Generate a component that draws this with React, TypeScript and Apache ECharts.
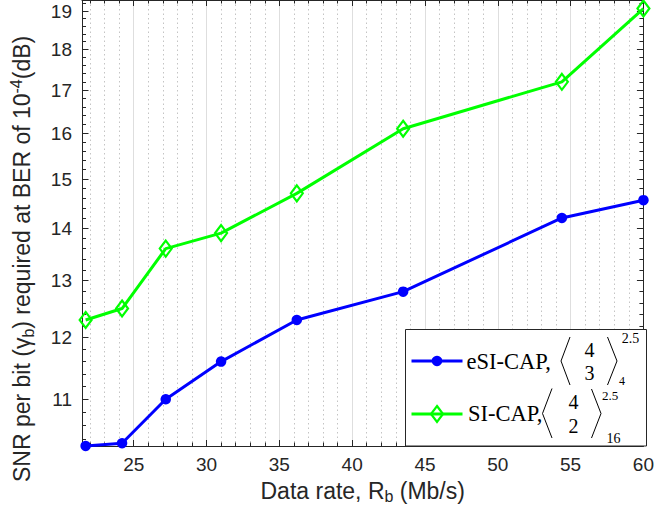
import React, { useEffect, useRef } from 'react';
import * as echarts from 'echarts';

// ---- data ----
const dataRate = [21.7, 24.2, 27.2, 31.0, 36.2, 43.5, 54.4, 60.0];
const esiCap = [10.3, 10.34, 11.0, 11.6, 12.3, 12.8, 14.2, 14.56];
const siCap = [12.3, 12.5, 13.6, 13.9, 14.7, 16.1, 17.2, 19.07];

const xTicks = [25, 30, 35, 40, 45, 50, 55, 60];
const xMinorTicks = [22, 23, 24, 26, 27, 28, 29, 31, 32, 33, 34, 36, 37, 38, 39, 41, 42, 43, 44, 46, 47, 48, 49, 51, 52, 53, 54, 56, 57, 58, 59];
const yTicks = [11, 12, 13, 14, 15, 16, 17, 18, 19];
const yMinorTicks = [10.4, 10.6, 10.8, 11.2, 11.4, 11.6, 11.8, 12.2, 12.4, 12.6, 12.8, 13.2, 13.4, 13.6, 13.8, 14.2, 14.4, 14.6, 14.8, 15.2, 15.4, 15.6, 15.8, 16.2, 16.4, 16.6, 16.8, 17.2, 17.4, 17.6, 17.8, 18.2, 18.4, 18.6, 18.8, 19.2];

const X_MIN = 21.45;
const X_MAX = 60;
const Y_MIN = 10.3;
const Y_MAX = 19.3;

const AX = '#262626';
const SANS = '"Liberation Sans", Arial, Helvetica, sans-serif';
const SERIF = '"Liberation Serif", "Times New Roman", serif';

const lg = (v: number) => Math.log10(v);

export default function App() {
  const ref = useRef<HTMLDivElement>(null);
  useEffect(() => {
    if (!ref.current) return;
    const chart = echarts.init(ref.current, undefined, { renderer: 'svg' });

    const xBase: any = { type: 'value', min: X_MIN, max: X_MAX, gridIndex: 0 };
    const yBase: any = { type: 'value', min: lg(Y_MIN), max: lg(Y_MAX), gridIndex: 0 };

    const majorTickStyle = { color: AX, width: 1 };

    const option: any = {
      animation: false,
      backgroundColor: '#ffffff',
      grid: { left: 82, right: 10.5, top: 0, bottom: 65, containLabel: false },
      xAxis: [
        {
          ...xBase,
          position: 'bottom',
          axisLine: { show: true, onZero: false, lineStyle: { color: AX, width: 1 } },
          axisTick: { show: true, inside: true, length: 6, customValues: xTicks, lineStyle: majorTickStyle },
          axisLabel: { show: true, customValues: xTicks, fontSize: 19, color: AX, margin: 9, fontFamily: SANS },
          splitLine: { show: true, lineStyle: { color: '#dedede', width: 1 } },
          name: '{a|Data rate, R}{s|b}{a| (Mb/s)}',
          nameLocation: 'middle',
          nameGap: 32,
          nameTextStyle: {
            rich: {
              a: { fontSize: 23, fontFamily: SANS, color: AX, lineHeight: 26, verticalAlign: 'middle' },
              s: { fontSize: 16, fontFamily: SANS, color: AX, lineHeight: 16, verticalAlign: 'bottom' },
            },
          },
        },
        {
          ...xBase,
          position: 'bottom',
          axisLine: { show: false, onZero: false },
          axisTick: { show: true, inside: true, length: 3.5, customValues: xMinorTicks, lineStyle: majorTickStyle },
          axisLabel: { show: false },
          splitLine: { show: true, lineStyle: { color: '#c4c4c4', width: 1, type: [1.5, 3] } },
        },
        {
          ...xBase,
          position: 'top',
          axisLine: { show: true, onZero: false, lineStyle: { color: AX, width: 1 } },
          axisTick: { show: true, inside: true, length: 6, customValues: xTicks, lineStyle: majorTickStyle },
          axisLabel: { show: false },
          splitLine: { show: false },
        },
        {
          ...xBase,
          position: 'top',
          axisLine: { show: false, onZero: false },
          axisTick: { show: true, inside: true, length: 3.5, customValues: xMinorTicks, lineStyle: majorTickStyle },
          axisLabel: { show: false },
          splitLine: { show: false },
        },
      ],
      yAxis: [
        {
          ...yBase,
          position: 'left',
          axisLine: { show: true, onZero: false, lineStyle: { color: AX, width: 1 } },
          axisTick: { show: true, inside: true, length: 6.5, customValues: yTicks.map(lg), lineStyle: majorTickStyle },
          axisLabel: {
            show: true,
            customValues: yTicks.map(lg),
            formatter: (v: number) => String(Math.round(Math.pow(10, v))),
            fontSize: 19,
            color: AX,
            margin: 10,
            fontFamily: SANS,
          },
          splitLine: { show: false },
        },
        {
          ...yBase,
          position: 'left',
          axisLine: { show: false, onZero: false },
          axisTick: { show: true, inside: true, length: 4, customValues: yMinorTicks.map(lg), lineStyle: majorTickStyle },
          axisLabel: { show: false },
          splitLine: { show: false },
        },
        {
          ...yBase,
          position: 'right',
          axisLine: { show: true, onZero: false, lineStyle: { color: AX, width: 1 } },
          axisTick: { show: true, inside: true, length: 6.5, customValues: yTicks.map(lg), lineStyle: majorTickStyle },
          axisLabel: { show: false },
          splitLine: { show: false },
        },
        {
          ...yBase,
          position: 'right',
          axisLine: { show: false, onZero: false },
          axisTick: { show: true, inside: true, length: 4, customValues: yMinorTicks.map(lg), lineStyle: majorTickStyle },
          axisLabel: { show: false },
          splitLine: { show: false },
        },
      ],
      series: [
        {
          name: 'eSI-CAP',
          type: 'line',
          xAxisIndex: 0,
          yAxisIndex: 0,
          clip: false,
          data: dataRate.map((x, i) => [x, lg(esiCap[i])]),
          symbol: 'circle',
          symbolSize: 10.5,
          lineStyle: { color: '#0000ff', width: 3 },
          itemStyle: { color: '#0000ff' },
          z: 3,
        },
        {
          name: 'SI-CAP',
          type: 'line',
          xAxisIndex: 0,
          yAxisIndex: 0,
          clip: false,
          data: dataRate.map((x, i) => [x, lg(siCap[i])]),
          symbol: 'diamond',
          symbolSize: [12, 16],
          lineStyle: { color: '#00ff00', width: 3 },
          itemStyle: { color: 'rgba(0,0,0,0)', borderColor: '#00ff00', borderWidth: 2.2 },
          z: 3,
        },
      ],
      graphic: [
        // y axis title
        {
          type: 'text',
          x: 22,
          y: 482,
          rotation: Math.PI / 2,
          z: 50,
          style: {
            text: '{a|SNR per bit (}{g|γ}{s|b}{a|) required at BER of 10}{p|-4}{a|(dB)}',
            align: 'left',
            verticalAlign: 'middle',
            fill: AX,
            fontSize: 23,
            fontFamily: SANS,
            rich: {
              a: { fontSize: 23, fontFamily: SANS, fill: AX, lineHeight: 28, verticalAlign: 'middle' },
              g: { fontSize: 23, fontFamily: SANS, fill: AX, lineHeight: 28, verticalAlign: 'middle' },
              s: { fontSize: 16, fontFamily: SANS, fill: AX, lineHeight: 16, verticalAlign: 'bottom' },
              p: { fontSize: 16, fontFamily: SANS, fill: AX, lineHeight: 16, verticalAlign: 'top' },
            },
          },
        },
        // legend
        {
          type: 'group',
          z: 100,
          children: [
            {
              type: 'rect',
              z: 100,
              shape: { x: 405.5, y: 329.5, width: 241, height: 116.5 },
              style: { fill: '#ffffff', stroke: AX, lineWidth: 1 },
            },
            // row 1
            { type: 'line', z: 101, shape: { x1: 411.5, y1: 361, x2: 462.5, y2: 361 }, style: { stroke: '#0000ff', lineWidth: 3 } },
            { type: 'circle', z: 102, shape: { cx: 437, cy: 361, r: 5.25 }, style: { fill: '#0000ff' } },
            { type: 'text', z: 101, x: 466.5, y: 361, style: { text: 'eSI-CAP,', align: 'left', verticalAlign: 'middle', fontSize: 22.5, fontFamily: SERIF, fill: '#000' } },
            { type: 'polyline', z: 101, shape: { points: [[570, 337], [561, 361], [570, 385]] }, style: { stroke: '#000', lineWidth: 1, fill: null } },
            { type: 'polyline', z: 101, shape: { points: [[607.5, 337], [617, 361], [607.5, 385]] }, style: { stroke: '#000', lineWidth: 1, fill: null } },
            { type: 'text', z: 101, x: 589.5, y: 350, style: { text: '4', align: 'center', verticalAlign: 'middle', fontSize: 20, fontFamily: SERIF, fill: '#000' } },
            { type: 'text', z: 101, x: 589.5, y: 373, style: { text: '3', align: 'center', verticalAlign: 'middle', fontSize: 20, fontFamily: SERIF, fill: '#000' } },
            { type: 'text', z: 101, x: 630.5, y: 338, style: { text: '2.5', align: 'center', verticalAlign: 'middle', fontSize: 14, fontFamily: SERIF, fill: '#000' } },
            // row 2
            { type: 'line', z: 101, shape: { x1: 411.5, y1: 414, x2: 462.5, y2: 414 }, style: { stroke: '#00ff00', lineWidth: 3 } },
            { type: 'polygon', z: 102, shape: { points: [[437, 406], [443, 414], [437, 422], [431, 414]] }, style: { stroke: '#00ff00', lineWidth: 2.2, fill: null } },
            { type: 'text', z: 101, x: 468, y: 413.5, style: { text: 'SI-CAP,', align: 'left', verticalAlign: 'middle', fontSize: 22.5, fontFamily: SERIF, fill: '#000' } },
            { type: 'polyline', z: 101, shape: { points: [[552, 388.5], [542.5, 413.5], [552, 438]] }, style: { stroke: '#000', lineWidth: 1, fill: null } },
            { type: 'polyline', z: 101, shape: { points: [[591.5, 389], [601, 413.5], [591.5, 438]] }, style: { stroke: '#000', lineWidth: 1, fill: null } },
            { type: 'text', z: 101, x: 573.5, y: 402, style: { text: '4', align: 'center', verticalAlign: 'middle', fontSize: 20, fontFamily: SERIF, fill: '#000' } },
            { type: 'text', z: 101, x: 573.5, y: 426, style: { text: '2', align: 'center', verticalAlign: 'middle', fontSize: 20, fontFamily: SERIF, fill: '#000' } },
            { type: 'text', z: 101, x: 610, y: 395, style: { text: '2.5', align: 'center', verticalAlign: 'middle', fontSize: 13, fontFamily: SERIF, fill: '#000' } },
            { type: 'text', z: 101, x: 622, y: 381, style: { text: '4', align: 'center', verticalAlign: 'middle', fontSize: 12, fontFamily: SERIF, fill: '#000' } },
            { type: 'text', z: 101, x: 613.5, y: 438, style: { text: '16', align: 'center', verticalAlign: 'middle', fontSize: 14, fontFamily: SERIF, fill: '#000' } },
          ],
        },
      ],
    };

    chart.setOption(option);
    return () => chart.dispose();
  }, []);

  return (
    <div
      ref={ref}
      style={{ position: 'fixed', left: 0, top: 0, width: 657, height: 511, background: '#fff' }}
    />
  );
}
